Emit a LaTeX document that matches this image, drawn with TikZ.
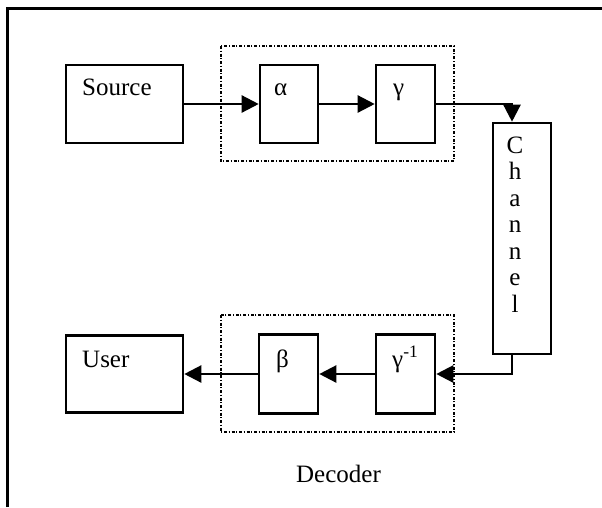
\documentclass[tikz,border=0pt]{standalone}
\usepackage{fontspec}
\setmainfont{Liberation Serif}
\usetikzlibrary{arrows.meta}
\begin{document}
\begin{tikzpicture}[x=1pt,y=-1pt,
  blk/.style={draw,line width=2.6pt,rectangle,inner sep=0pt},
  lbl/.style={font=\fontsize{25}{30}\selectfont,inner sep=0pt},
  grp/.style={draw,line width=2.2pt,dash pattern=on 3pt off 1.6pt on 1.3pt off 1.6pt},
  conn/.style={line width=2.4pt,-{Triangle[length=17pt,width=17pt]}}]
\useasboundingbox (0,0) rectangle (602,507);
\draw[line width=3pt] (7,507) -- (7,8) -- (602,8);
% group boxes
\draw[grp] (221,46) rectangle (454,161);
\draw[grp] (221,315) rectangle (454,432);
% blocks
\node[blk,minimum width=117pt,minimum height=78pt] (src) at (124.5,104) {};
\node[blk,minimum width=58pt,minimum height=78pt] (alpha) at (289,104) {};
\node[blk,minimum width=59pt,minimum height=78pt] (gamma) at (405.5,104) {};
\node[blk,minimum width=58pt,minimum height=231pt] (chan) at (522,238.5) {};
\node[blk,minimum width=117pt,minimum height=77pt] (user) at (124.5,374) {};
\node[blk,minimum width=59pt,minimum height=79pt] (beta) at (288.5,374) {};
\node[blk,minimum width=59pt,minimum height=79pt] (ginv) at (405.5,374) {};
% labels
\node[lbl,anchor=base west] (tsrc) at (82,95) {Source};
\node[lbl,anchor=base west] (talpha) at (274,95) {α};
\node[lbl,anchor=base west] (tgamma) at (393,95) {γ};
\node[lbl,anchor=base west] (tuser) at (82,367) {User};
\node[lbl,anchor=base west] (tbeta) at (276,367) {β};
\node[lbl,anchor=base west] (tginv) at (392,367) {γ\textsuperscript{-1}};
\node[lbl,anchor=base] (ch1) at (515,153) {C};
\node[lbl,anchor=base] (ch2) at (515,179.5) {h};
\node[lbl,anchor=base] (ch3) at (515,206) {a};
\node[lbl,anchor=base] (ch4) at (515,232.5) {n};
\node[lbl,anchor=base] (ch5) at (515,259) {n};
\node[lbl,anchor=base] (ch6) at (515,285.5) {e};
\node[lbl,anchor=base] (ch7) at (515,312) {l};
\node[lbl,anchor=base] (tdec) at (338.5,482) {Decoder};
% connectors
\coordinate (c1) at (512,104);
\coordinate (c2) at (512,374);
\draw[conn] (src.east) -- (alpha.west);
\draw[conn] (alpha.east) -- (gamma.west);
\draw[conn] (gamma.east) -- (c1) -- (c1 |- chan.north);
\draw[conn] (c2 |- chan.south) -- (c2) -- (ginv.east);
\draw[conn] (ginv.west) -- (beta.east);
\draw[conn] (beta.west) -- (user.east);
\end{tikzpicture}
\end{document}
